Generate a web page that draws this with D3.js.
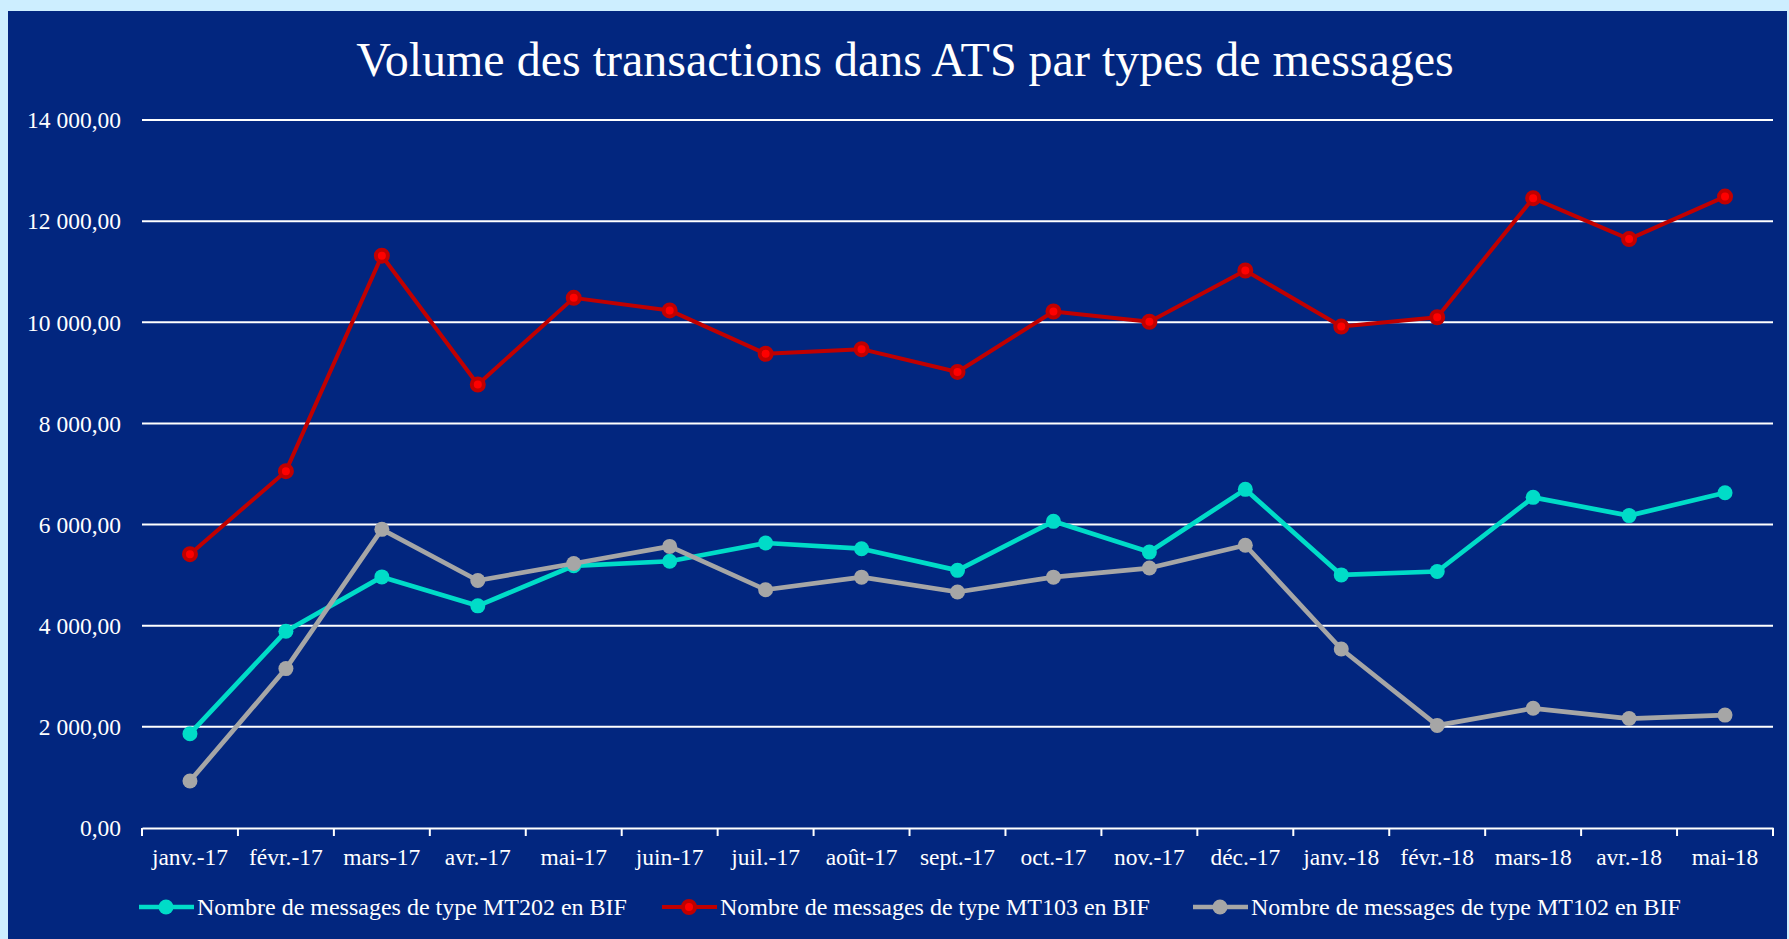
<!DOCTYPE html>
<html>
<head>
<meta charset="utf-8">
<script src="https://cdn.jsdelivr.net/npm/d3@7"></script>
<style>
  html, body { margin: 0; padding: 0; background: #cdeeff; }
  svg { display: block; }
  text { font-family: "Liberation Serif", "Times New Roman", serif; fill: #ffffff; }
</style>
</head>
<body>
<div id="chart"></div>
<script>
// data
const months = ['janv.-17', 'févr.-17', 'mars-17', 'avr.-17', 'mai-17', 'juin-17', 'juil.-17', 'août-17',
  'sept.-17', 'oct.-17', 'nov.-17', 'déc.-17', 'janv.-18', 'févr.-18', 'mars-18', 'avr.-18', 'mai-18'];

const mt202 = [1865, 3890, 4965, 4393, 5185, 5275, 5636, 5523, 5095, 6064, 5456, 6696, 5005, 5072, 6538, 6177, 6628];
const mt103 = [5415, 7056, 11317, 8770, 10483, 10235, 9378, 9469, 9018, 10213, 10010, 11024, 9915, 10100, 12455, 11645, 12485];
const mt102 = [928, 3152, 5906, 4895, 5230, 5568, 4712, 4960, 4667, 4960, 5140, 5591, 3540, 2029, 2367, 2164, 2232];

const yTicks = [0, 2000, 4000, 6000, 8000, 10000, 12000, 14000];

const seriesNames = ['Nombre de messages de type MT202 en BIF', 'Nombre de messages de type MT103 en BIF', 'Nombre de messages de type MT102 en BIF'];
const seriesValues = [mt202, mt103, mt102];
const seriesColors = ['#00dcc8', '#c00000', '#a6a6a6'];
const markerFills = ['#00dcc8', '#ff0000', '#a6a6a6'];
const lineWidths = [4.7, 4, 4.7];

const W = 1789, H = 939;
const margin = { left: 142, right: 16, top: 120, bottom: 111 };

const svg = d3.select('#chart').append('svg')
  .attr('width', W).attr('height', H);

//dark panel
svg.append('rect')
  .attr('x', 8).attr('y', 11)
  .attr('width', W - 10).attr('height', H - 11)
  .attr('fill', '#02267f');

svg.append('text')
  .attr('x', 905).attr('y', 76)
  .attr('text-anchor', 'middle')
  .style('font-size', '48px')
  .text('Volume des transactions dans ATS par types de messages');

const x = d3.scaleBand()
  .domain(months)
  .range([margin.left, W - margin.right]);

const y = d3.scaleLinear()
  .domain([0, 14000])
  .range([H - margin.bottom, margin.top]);

const fmt = v => d3.format(',.2f')(v).replace(/,/g, ' ').replace('.', ',');

//gridlines
svg.append('g').selectAll('line')
  .data(yTicks.filter(t => t > 0))
  .join('line')
  .attr('x1', margin.left).attr('x2', W - margin.right)
  .attr('y1', d => y(d)).attr('y2', d => y(d))
  .attr('stroke', '#ffffff').attr('stroke-width', 2);

//y labels
svg.append('g').selectAll('text')
  .data(yTicks)
  .join('text')
  .attr('x', 121).attr('y', d => y(d))
  .attr('dy', '0.35em')
  .attr('text-anchor', 'end')
  .style('font-size', '23.5px')
  .text(fmt);

//x axis
const xAxis = svg.append('g')
  .attr('transform', `translate(0,${y(0)})`)
  .call(d3.axisBottom(x).tickSize(0).tickFormat(''));
xAxis.select('.domain').attr('stroke', '#ffffff').attr('stroke-width', 2);

const tickPos = months.map(m => x(m)).concat([x.range()[1]]);
svg.append('g').selectAll('line')
  .data(tickPos)
  .join('line')
  .attr('x1', d => d).attr('x2', d => d)
  .attr('y1', y(0)).attr('y2', y(0) + 8)
  .attr('stroke', '#ffffff').attr('stroke-width', 2);

svg.append('g').selectAll('text')
  .data(months)
  .join('text')
  .attr('x', d => x(d) + x.bandwidth() / 2)
  .attr('y', 865)
  .attr('text-anchor', 'middle')
  .style('font-size', '23.5px')
  .text(d => d);

//lines and markers
const line = d3.line()
  .x((d, i) => x(months[i]) + x.bandwidth() / 2)
  .y(d => y(d));

seriesValues.forEach((vals, s) => {
  svg.append('path')
    .datum(vals)
    .attr('d', line)
    .attr('fill', 'none')
    .attr('stroke', seriesColors[s])
    .attr('stroke-width', lineWidths[s])
    .attr('stroke-linejoin', 'round');

  svg.append('g').selectAll('circle')
    .data(vals)
    .join('circle')
    .attr('cx', (d, i) => x(months[i]) + x.bandwidth() / 2)
    .attr('cy', d => y(d))
    .attr('r', s === 1 ? 6 : 7.5)
    .attr('fill', markerFills[s])
    .attr('stroke', s === 1 ? seriesColors[s] : 'none')
    .attr('stroke-width', 4);
});

//legend
const legendStarts = [139, 662, 1193];
const legendY = 907;
seriesNames.forEach((name, s) => {
  const g = svg.append('g').attr('transform', `translate(${legendStarts[s]},${legendY})`);
  g.append('line')
    .attr('x1', 0).attr('x2', 55)
    .attr('y1', 0).attr('y2', 0)
    .attr('stroke', seriesColors[s]).attr('stroke-width', lineWidths[s]);
  g.append('circle')
    .attr('cx', 27).attr('cy', 0)
    .attr('r', s === 1 ? 6 : 7.5)
    .attr('fill', markerFills[s])
    .attr('stroke', s === 1 ? seriesColors[s] : 'none')
    .attr('stroke-width', 4);
  g.append('text')
    .attr('x', 58).attr('y', 0)
    .attr('dy', '0.35em')
    .style('font-size', '24px')
    .text(name);
});
</script>
</body>
</html>
